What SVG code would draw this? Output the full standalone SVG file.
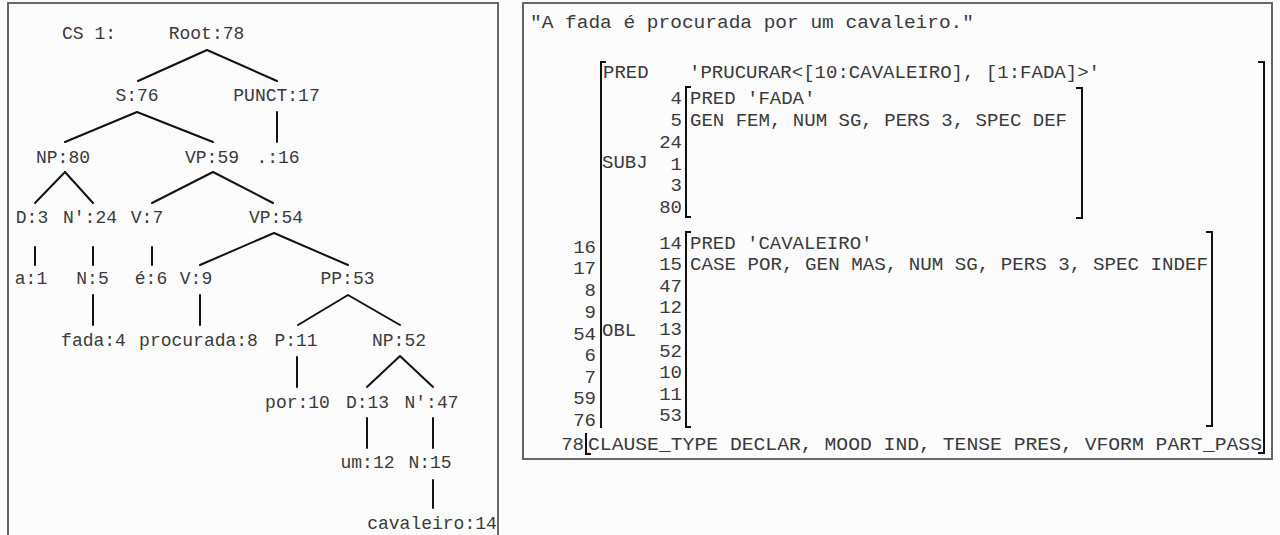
<svg xmlns="http://www.w3.org/2000/svg" width="1280" height="535" viewBox="0 0 1280 535">
<style>
.t{font-family:"Liberation Mono","Courier New",monospace;font-size:18px;fill:#3a3a3a;text-anchor:middle}
.f{font-family:"Liberation Mono","Courier New",monospace;font-size:19px;fill:#3a3a3a}
.n{font-family:"Liberation Mono","Courier New",monospace;font-size:19px;fill:#3a3a3a;text-anchor:end}
.e{stroke:#111;stroke-width:2;fill:none;stroke-linecap:round}
.b{stroke:#111;stroke-width:2;fill:none}
.panel{fill:none;stroke:#666;stroke-width:2}
</style>
<rect width="1280" height="535" fill="#fcfcfc"/>
<rect class="panel" x="8" y="3" width="490" height="540"/>
<rect class="panel" x="523" y="3" width="749" height="456"/>

<g id="connectors">
<path class="e" d="M207,50L138,81M207,50L277,81"/>
<path class="e" d="M277,112L277,142"/>
<path class="e" d="M137,112L65,142M137,112L213,142"/>
<path class="e" d="M65,172L35,203M65,172L93,203"/>
<path class="e" d="M213,172L152,203M213,172L273,203"/>
<path class="e" d="M35,247L35,265M93,247L93,265M152,247L152,265"/>
<path class="e" d="M274,233L200,265M274,233L348,265"/>
<path class="e" d="M93,295L93,325M200,295L200,325"/>
<path class="e" d="M348,295L298,325M348,295L400,325"/>
<path class="e" d="M297,357L297,387"/>
<path class="e" d="M400,356L367,387M400,356L433,387"/>
<path class="e" d="M367,418L367,448M433,418L433,448"/>
<path class="e" d="M433,480L433,508"/>
</g>

<g id="cs1"><text class="t" x="62" y="39" style="text-anchor:start">CS 1:</text></g>
<g id="root78"><text class="t" x="206.5" y="39">Root:78</text></g>
<g id="s76"><text class="t" x="137" y="101">S:76</text></g>
<g id="punct17"><text class="t" x="276.5" y="101">PUNCT:17</text></g>
<g id="np80"><text class="t" x="63" y="163">NP:80</text></g>
<g id="vp59"><text class="t" x="212" y="163">VP:59</text></g>
<g id="dot16"><text class="t" x="278" y="163">.:16</text></g>
<g id="d3"><text class="t" x="32" y="223">D:3</text></g>
<g id="nbar24"><text class="t" x="90" y="223">N':24</text></g>
<g id="v7"><text class="t" x="147" y="223">V:7</text></g>
<g id="vp54"><text class="t" x="276" y="223">VP:54</text></g>
<g id="a1"><text class="t" x="31" y="284">a:1</text></g>
<g id="n5"><text class="t" x="92.5" y="284">N:5</text></g>
<g id="e6"><text class="t" x="151" y="284">é:6</text></g>
<g id="v9"><text class="t" x="196" y="284">V:9</text></g>
<g id="pp53"><text class="t" x="347.5" y="284">PP:53</text></g>
<g id="fada4"><text class="t" x="93.5" y="346">fada:4</text></g>
<g id="procurada8"><text class="t" x="198.5" y="346">procurada:8</text></g>
<g id="p11"><text class="t" x="296" y="346">P:11</text></g>
<g id="np52"><text class="t" x="399" y="346">NP:52</text></g>
<g id="por10"><text class="t" x="297.5" y="408">por:10</text></g>
<g id="d13"><text class="t" x="367.5" y="408">D:13</text></g>
<g id="nbar47"><text class="t" x="431.5" y="408">N':47</text></g>
<g id="um12"><text class="t" x="367.5" y="468">um:12</text></g>
<g id="n15"><text class="t" x="430" y="468">N:15</text></g>
<g id="cavaleiro14"><text class="t" x="432" y="529">cavaleiro:14</text></g>

<g id="fstructure">
<text class="f" x="530" y="28" textLength="444" lengthAdjust="spacingAndGlyphs">"A fada é procurada por um cavaleiro."</text>
<path class="b" d="M606,62H601V428"/>
<path class="b" d="M1258,62H1264V453H1258"/>
<text class="f" x="603" y="78">PRED</text>
<text class="f" x="689" y="78" textLength="411" lengthAdjust="spacingAndGlyphs">'PRUCURAR&lt;[10:CAVALEIRO], [1:FADA]&gt;'</text>
<text class="f" x="602" y="168">SUBJ</text>
<path class="b" d="M691,87H686V217H691"/>
<path class="b" d="M1076,88H1082V218H1076"/>
<text class="n" x="682" y="104">4</text>
<text class="n" x="682" y="126">5</text>
<text class="n" x="682" y="148">24</text>
<text class="n" x="682" y="170">1</text>
<text class="n" x="682" y="191">3</text>
<text class="n" x="682" y="213">80</text>
<text class="f" x="690" y="104">PRED 'FADA'</text>
<text class="f" x="690" y="126" textLength="377" lengthAdjust="spacingAndGlyphs">GEN FEM, NUM SG, PERS 3, SPEC DEF</text>
<text class="n" x="596" y="252.5">16</text>
<text class="n" x="596" y="274.2">17</text>
<text class="n" x="596" y="295.9">8</text>
<text class="n" x="596" y="317.6">9</text>
<text class="n" x="596" y="340">54</text>
<text class="n" x="596" y="361">6</text>
<text class="n" x="596" y="382.7">7</text>
<text class="n" x="596" y="404.4">59</text>
<text class="n" x="596" y="426">76</text>
<text class="f" x="602" y="336">OBL</text>
<path class="b" d="M691,232H686V427H691"/>
<path class="b" d="M1206,232H1212V426H1206"/>
<text class="n" x="682" y="248.5">14</text>
<text class="n" x="682" y="270">15</text>
<text class="n" x="682" y="291.6">47</text>
<text class="n" x="682" y="313">12</text>
<text class="n" x="682" y="335">13</text>
<text class="n" x="682" y="356.5">52</text>
<text class="n" x="682" y="378">10</text>
<text class="n" x="682" y="399.6">11</text>
<text class="n" x="682" y="421">53</text>
<text class="f" x="690" y="248.5">PRED 'CAVALEIRO'</text>
<text class="f" x="690" y="270" textLength="518" lengthAdjust="spacingAndGlyphs">CASE POR, GEN MAS, NUM SG, PERS 3, SPEC INDEF</text>
<text class="n" x="584" y="450">78</text>
<path class="b" d="M586,433V454H591"/>
<text class="f" x="588" y="450" textLength="674" lengthAdjust="spacingAndGlyphs">CLAUSE_TYPE DECLAR, MOOD IND, TENSE PRES, VFORM PART_PASS</text>
</g>
</svg>
